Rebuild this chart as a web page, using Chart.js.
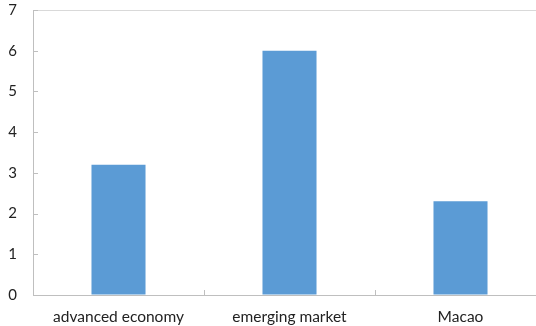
<!DOCTYPE html>
<html>
<head>
<meta charset="utf-8">
<script src="https://cdn.jsdelivr.net/npm/chart.js@4"></script>
<style>
  html, body { margin: 0; padding: 0; background: #fff; }
  #wrap { width: 536px; height: 326px; overflow: hidden; }
</style>
</head>
<body>
<div id="wrap"><canvas id="barChart" width="546" height="326"></canvas></div>
<script>
// Dados do gráfico
var categories = ["advanced economy", "emerging market", "Macao"];
var values = [3.2, 6.0, 2.3];
var yTicks = [0, 1, 2, 3, 4, 5, 6, 7];

var axisColor = "#bfbfbf";

// marcas curtas para dentro dos eixos, como no Excel
var innerTicks = {
  id: "innerTicks",
  afterDraw: function(chart) {
    var ctx = chart.ctx;
    var x = chart.scales.x, y = chart.scales.y;
    ctx.save();
    ctx.strokeStyle = axisColor;
    ctx.lineWidth = 1;
    ctx.beginPath();
    yTicks.forEach(function(v) {
      var py = Math.round(y.getPixelForValue(v)) + 0.5;
      ctx.moveTo(x.left, py);
      ctx.lineTo(x.left + 5, py);
    });
    for (var i = 1; i < categories.length; i++) {
      var px = Math.round((x.getPixelForValue(i - 1) + x.getPixelForValue(i)) / 2) + 0.5;
      ctx.moveTo(px, y.bottom);
      ctx.lineTo(px, y.bottom - 5);
    }
    ctx.stroke();
    ctx.restore();
  }
};

var ctx = document.getElementById("barChart").getContext("2d");
var chart = new Chart(ctx, {
  type: "bar",
  data: {
    labels: categories,
    datasets: [{
      data: values,
      backgroundColor: "#5b9bd5",
      borderWidth: 0,
      categoryPercentage: 1,
      barPercentage: 0.316
    }]
  },
  options: {
    responsive: false,
    animation: false,
    layout: { padding: 0 },
    plugins: {
      legend: { display: false },
      tooltip: { enabled: false }
    },
    scales: {
      x: {
        grid: { display: false, drawTicks: false },
        border: { color: axisColor, width: 1 },
        ticks: {
          color: "#222",
          font: { family: "Lato", size: 15.5 },
          padding: 13,
          maxRotation: 0
        },
        afterFit: function(s) {
          s.height = 31;
          s.paddingLeft = 0;
          s.paddingRight = 0;
        }
      },
      y: {
        min: 0,
        max: 7,
        grid: {
          drawTicks: false,
          color: function(c) { return c.tick && c.tick.value === 7 ? "#d9d9d9" : "rgba(0,0,0,0)"; }
        },
        border: { color: axisColor, width: 1 },
        ticks: {
          stepSize: 1,
          color: "#222",
          font: { family: "Lato", size: 15 },
          padding: 16
        },
        afterFit: function(s) {
          s.width = 33;
          s.paddingTop = 10;
          s.paddingBottom = 0;
        }
      }
    }
  },
  plugins: [innerTicks]
});
</script>
</body>
</html>
